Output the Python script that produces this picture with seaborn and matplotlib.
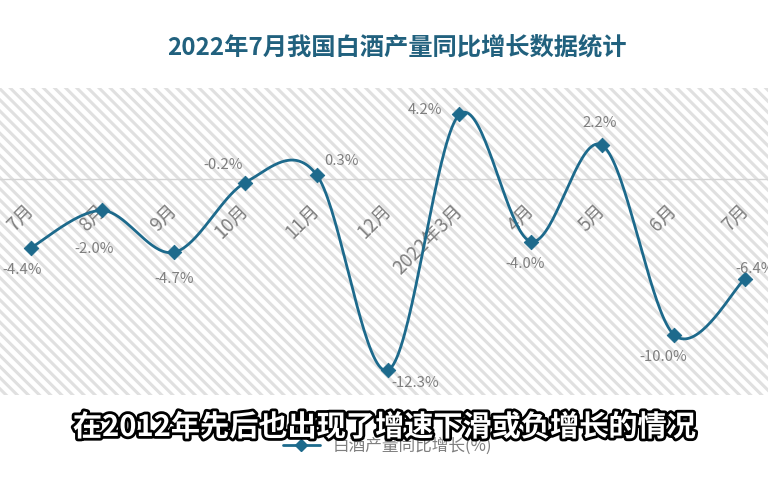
import numpy as np
import pandas as pd
import matplotlib
matplotlib.use("Agg")
import matplotlib.pyplot as plt
import matplotlib.patheffects as pe
import matplotlib.transforms as mtrans
from matplotlib.lines import Line2D
from matplotlib.patches import Rectangle
import seaborn as sns

# ---- data ----
categories = ["7月", "8月", "9月", "10月", "11月", "12月", "2022年3月", "4月", "5月", "6月", "7月"]
growth = [-4.4, -2.0, -4.7, -0.2, 0.3, -12.3, 4.2, -4.0, 2.2, -10.0, -6.4]
value_labels = ["-4.4%", "-2.0%", "-4.7%", "-0.2%", "0.3%", "-12.3%", "4.2%", "-4.0%", "2.2%", "-10.0%", "-6.4%"]
title = "2022年7月我国白酒产量同比增长数据统计"
series_name = "白酒产量同比增长(%)"
subtitle = "在2012年先后也出现了增速下滑或负增长的情况"

# ---- style ----
sns.set_theme(style="white")
plt.rcParams['font.family'] = ['Noto Sans CJK SC', 'DejaVu Sans']
plt.rcParams['hatch.linewidth'] = 2.2
plt.rcParams['hatch.color'] = '#e0e0e0'

LINE = '#1d6a8c'
GRAY = '#7f7f7f'

# label offsets in pixels (style only)
label_off = [(-9, -22), (-8, -39), (0, -27), (-22, 18), (25, 14), (27, -13),
             (-34, 4), (-6, -23), (-3, 22), (-10, -22), (10, 10)]

df = pd.DataFrame({"idx": np.arange(len(growth)), "growth": growth})

# smooth (Catmull-Rom style Bezier) path through the data points
def smooth(xs, ys, n=40):
    xs = np.asarray(xs, float); ys = np.asarray(ys, float)
    px = np.concatenate([[xs[0]], xs, [xs[-1]]])
    py = np.concatenate([[ys[0]], ys, [ys[-1]]])
    ox, oy = [], []
    for i in range(1, len(px) - 2):
        p0 = np.array([px[i], py[i]]); p3 = np.array([px[i + 1], py[i + 1]])
        c1 = p0 + (np.array([px[i + 1], py[i + 1]]) - np.array([px[i - 1], py[i - 1]])) / 6
        c2 = p3 - (np.array([px[i + 2], py[i + 2]]) - np.array([px[i], py[i]])) / 6
        t = np.linspace(0, 1, n)[:, None]
        b = (1 - t) ** 3 * p0 + 3 * (1 - t) ** 2 * t * c1 + 3 * (1 - t) * t ** 2 * c2 + t ** 3 * p3
        ox.extend(b[:, 0]); oy.extend(b[:, 1])
    return np.array(ox), np.array(oy)

fig = plt.figure(figsize=(7.68, 4.8), dpi=100)
fig.patch.set_facecolor('white')
ax = fig.add_axes([0.0, 85 / 480, 1.0, (395 - 88) / 480])
ax.set_facecolor('white')
ax.add_patch(Rectangle((0, 0), 1, 1, transform=ax.transAxes, facecolor='white',
                       edgecolor='#e0e0e0', hatch='\\\\\\', linewidth=0, zorder=0))

sx, sy = smooth(df["idx"], df["growth"])
sns.lineplot(x=sx, y=sy, ax=ax, color=LINE, linewidth=2.0, sort=False, zorder=3)
sns.scatterplot(data=df, x="idx", y="growth", ax=ax, marker='D', s=55, color=LINE,
                edgecolor=LINE, zorder=4)

ax.set_xlim(-0.434, 10.32)
ax.set_ylim(-13.9, 5.9)
ax.set_xlabel(''); ax.set_ylabel('')
ax.set_yticks([])
for s in ['top', 'right', 'left']:
    ax.spines[s].set_visible(False)
ax.spines['bottom'].set_position(('data', 0))
ax.spines['bottom'].set_color('#d4d4d4')
ax.spines['bottom'].set_linewidth(1.0)
ax.spines['bottom'].set_zorder(1)
ax.set_xticks(df["idx"])
ax.set_xticklabels(categories, rotation=45, ha='right', va='top', rotation_mode='anchor',
                   color=GRAY, fontsize=13.5)
ax.tick_params(axis='x', length=0, pad=15)
shift = mtrans.ScaledTranslation(-7 / 100, 0, fig.dpi_scale_trans)
for lbl in ax.get_xticklabels():
    lbl.set_zorder(2)
    lbl.set_transform(lbl.get_transform() + shift)

for i, (v, t) in enumerate(zip(growth, value_labels)):
    dx, dy = label_off[i]
    ax.annotate(t, (i, v), xytext=(dx, dy), textcoords='offset pixels', ha='center', va='center',
                color=GRAY, fontsize=10.7, zorder=5, annotation_clip=False)

# title
fig.text(0.517, 1 - 47 / 480, title, ha='center', va='center', fontsize=17.5,
         fontweight='bold', color='#21617e')

# legend
h = Line2D([0], [0], color=LINE, lw=2.0, marker='D', markersize=6)
fig.legend([h], [series_name], loc='center', bbox_to_anchor=(0.505, 1 - 446 / 480),
           frameon=False, fontsize=12, labelcolor=GRAY, handlelength=2.2)

# subtitle overlay
fig.text(0.5, 1 - 427 / 480, subtitle, ha='center', va='center', fontsize=21,
         fontweight='bold', color='white', zorder=10,
         path_effects=[pe.withStroke(linewidth=4, foreground='black')])

fig.savefig('out.png', dpi=100, facecolor='white')
